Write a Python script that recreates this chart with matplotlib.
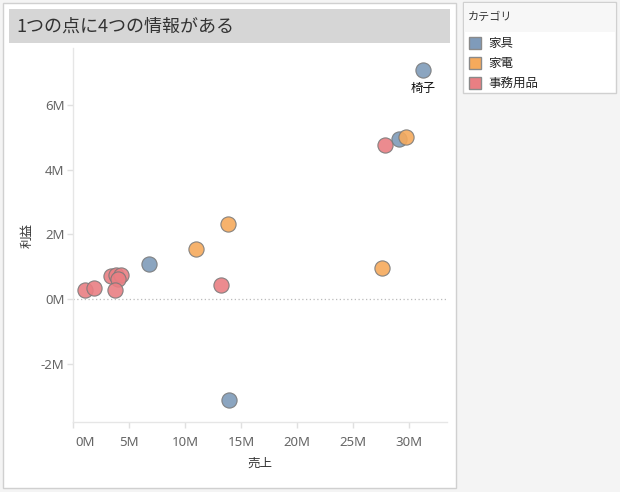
import matplotlib
matplotlib.use("Agg")
import matplotlib.pyplot as plt
from matplotlib.patches import Rectangle
import matplotlib.transforms as mtransforms

plt.rcParams['font.family'] = ['Noto Sans CJK JP', 'DejaVu Sans']

# ---- data (values in millions) ----
categories = ['家具', '家電', '事務用品']
colors = ['#7f9bba', '#f6aa5c', '#e97f83']

furniture_sales = [31.3, 29.1, 6.76, 13.9]
furniture_profit = [7.09, 4.95, 1.09, -3.12]

appliance_sales = [29.7, 13.8, 11.0, 27.6]
appliance_profit = [5.00, 2.33, 1.55, 0.97]

office_sales = [27.9, 13.2, 1.11, 1.85, 3.43, 3.88, 4.26, 4.02, 3.79]
office_profit = [4.77, 0.44, 0.29, 0.35, 0.70, 0.73, 0.75, 0.62, 0.29]

xticks = [0, 5, 10, 15, 20, 25, 30]
xtick_labels = ['0M', '5M', '10M', '15M', '20M', '25M', '30M']
yticks = [-2, 0, 2, 4, 6]
ytick_labels = ['-2M', '0M', '2M', '4M', '6M']

label_point = ('椅子', 31.3, 7.09)

W, H = 620, 492
fig = plt.figure(figsize=(W / 100, H / 100), dpi=100)
fig.patch.set_facecolor('#f4f4f4')


def px_rect(x0, y0, x1, y1, **kw):
    r = Rectangle((x0 / W, 1 - y1 / H), (x1 - x0) / W, (y1 - y0) / H,
                  transform=fig.transFigure, **kw)
    fig.add_artist(r)
    return r


def px_text(x, y, s, **kw):
    return fig.text(x / W, 1 - y / H, s, **kw)


# main panel
px_rect(3, 3, 456, 488, facecolor='white', edgecolor='#d0d0d0', linewidth=1, zorder=0)
# title bar
px_rect(9, 9, 450, 43, facecolor='#d6d6d6', edgecolor='none', zorder=1)
px_text(16, 27, '1つの点に4つの情報がある', fontsize=13, color='#333333',
        ha='left', va='center', zorder=2)

# legend
px_rect(463, 2, 616, 93, facecolor='white', edgecolor='#d0d0d0', linewidth=1, zorder=0)
px_rect(464, 3, 615, 32, facecolor='#f7f7f7', edgecolor='none', zorder=1)
px_text(468, 17, 'カテゴリ', fontsize=8, color='#333333', ha='left', va='center', zorder=2)
for i, (cat, col) in enumerate(zip(categories, colors)):
    yc = 43 + 20 * i
    px_rect(469, yc - 6, 481, yc + 6, facecolor=col, edgecolor='#8a8a8a',
            linewidth=1, zorder=2)
    px_text(488, yc, cat, fontsize=9, color='#222222', ha='left', va='center', zorder=2)

# axes
ax = fig.add_axes([73 / W, 1 - 422 / H, (447 - 73) / W, (422 - 48) / H])
ax.set_facecolor('white')
ax.set_xlim(0, 33.4)
ax.set_ylim(-3.81, 7.77)

series = [(furniture_sales, furniture_profit),
          (appliance_sales, appliance_profit),
          (office_sales, office_profit)]
for (xs, ys), col in zip(series, colors):
    ax.scatter(xs, ys, s=120, color=col, edgecolor='#7a7a7a', linewidth=0.8,
               alpha=0.9, zorder=3)

ax.axhline(0, color='#bbbbbb', linestyle=(0, (1, 2)), linewidth=0.9, zorder=1)

name, lx, ly = label_point
ax.annotate(name, (lx, ly), xytext=(0, -13), textcoords='offset points',
            ha='center', va='center', fontsize=9, color='#111111')

for side in ['top', 'right']:
    ax.spines[side].set_visible(False)
for side in ['left', 'bottom']:
    ax.spines[side].set_color('#e6e6e6')
    ax.spines[side].set_linewidth(1)

ax.set_xticks(xticks)
ax.set_xticklabels(xtick_labels)
ax.set_yticks(yticks)
ax.set_yticklabels(ytick_labels)
ax.tick_params(axis='both', colors='#e0e0e0', labelcolor='#666666',
               labelsize=9.5, length=4, width=1)
ax.tick_params(axis='x', pad=6)
ax.tick_params(axis='y', pad=2)

# first x label shifted right (inside axis)
lbl0 = ax.get_xticklabels()[0]
lbl0.set_transform(lbl0.get_transform() +
                   mtransforms.ScaledTranslation(12 / 100, 0, fig.dpi_scale_trans))

for lbl in ax.get_xticklabels() + ax.get_yticklabels():
    lbl.set_family(['Noto Sans', 'DejaVu Sans'])

ax.set_xlabel('売上', fontsize=9, color='#333333', labelpad=6)
ax.set_ylabel('利益', fontsize=9, color='#333333', labelpad=5)

fig.savefig('out.png', dpi=100, facecolor=fig.get_facecolor())
